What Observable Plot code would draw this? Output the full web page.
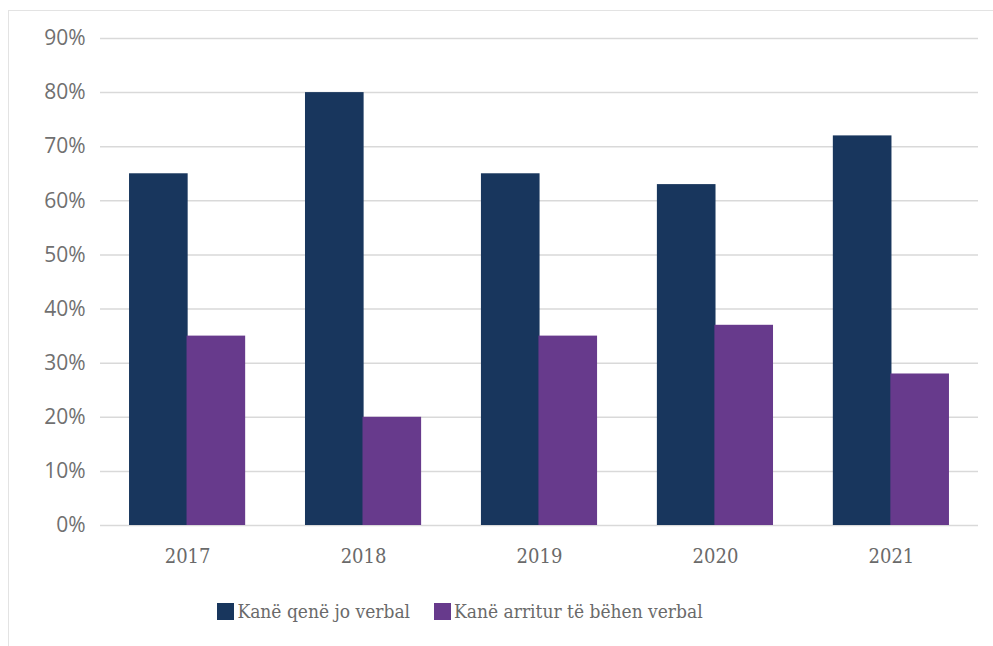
<!DOCTYPE html>
<html>
<head>
<meta charset="utf-8">
<script src="https://cdn.jsdelivr.net/npm/d3@7"></script>
<script src="https://cdn.jsdelivr.net/npm/@observablehq/plot@0.6"></script>
<style>
  html, body { margin: 0; padding: 0; background: #fff; }
  #frame { position: absolute; left: 8px; top: 10px; width: 990px; height: 640px; border: 1px solid #e3e3e3; box-sizing: border-box; }
  #chart { position: absolute; left: 0; top: 0; }
  #legend { position: absolute; left: 0; top: 600px; width: 920px; display: flex; justify-content: center; gap: 24px;
            font-family: "DejaVu Serif Condensed", "DejaVu Serif", serif; font-size: 19px; color: #6a6a6a; }
  .item { display: flex; align-items: center; gap: 3px; }
  .sw { width: 17px; height: 17px; display: inline-block; }
</style>
</head>
<body>
<div id="frame"></div>
<div id="chart"></div>
<div id="legend"></div>
<script>
const years = ["2017", "2018", "2019", "2020", "2021"];
const nonVerbal = [65, 80, 65, 63, 72];
const becameVerbal = [35, 20, 35, 37, 28];
const seriesNames = ["Kanë qenë jo verbal", "Kanë arritur të bëhen verbal"];
const colors = ["#18365d", "#673a8c"];
const yTicks = [0, 10, 20, 30, 40, 50, 60, 70, 80, 90];

const dataA = years.map((y, i) => ({year: y, value: nonVerbal[i]}));
const dataB = years.map((y, i) => ({year: y, value: becameVerbal[i]}));

const half = 57.5;
const chart = Plot.plot({
  width: 993,
  height: 575,
  marginTop: 38,
  marginBottom: 50,
  marginLeft: 100,
  marginRight: 15,
  style: {background: "transparent"},
  x: {domain: years, paddingInner: 0.34, paddingOuter: 0.165, round: false, label: null},
  y: {domain: [0, 90], label: null},
  marks: [
    Plot.ruleY(yTicks, {stroke: "#d9d9d9", strokeWidth: 1.5}),
    Plot.barY(dataA, {x: "year", y: "value", fill: colors[0], insetLeft: 0, insetRight: half}),
    Plot.barY(dataB, {x: "year", y: "value", fill: colors[1], insetLeft: half, insetRight: 0}),
    Plot.axisY({ticks: yTicks, tickSize: 0, tickPadding: 15, tickFormat: d => d + "%", fontSize: 21, fill: "#707070", fontFamily: "Open Sans, sans-serif", label: null}),
    Plot.axisX({tickSize: 0, tickPadding: 23, fontSize: 20, fill: "#6a6a6a", fontFamily: "DejaVu Serif Condensed, DejaVu Serif, serif", label: null})
  ]
});
document.getElementById("chart").appendChild(chart);

const legend = document.getElementById("legend");
seriesNames.forEach((n, i) => {
  const it = document.createElement("div");
  it.className = "item";
  it.innerHTML = `<span class="sw" style="background:${colors[i]}"></span><span>${n}</span>`;
  legend.appendChild(it);
});
</script>
</body>
</html>
